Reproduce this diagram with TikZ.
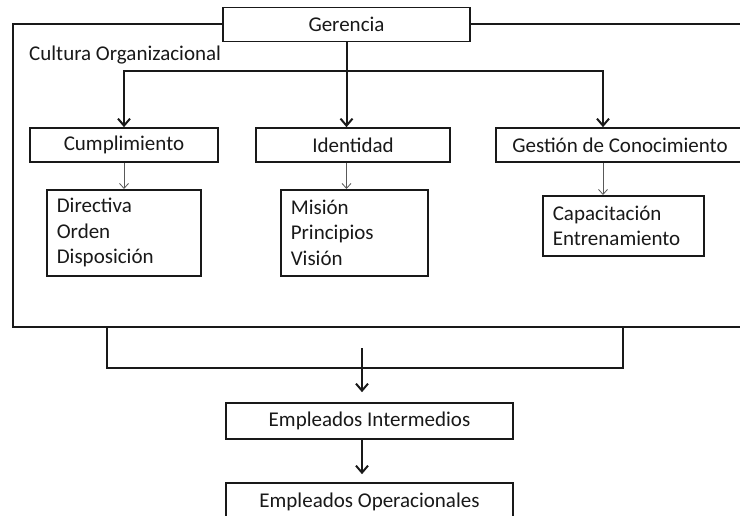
\documentclass[tikz,border=0pt]{standalone}
\usepackage{fontspec}
\setmainfont{Carlito}
\usetikzlibrary{arrows.meta,calc}

\tikzset{
  txt/.style={font=\fontsize{21}{25.5}\selectfont, text=black!90},
  box/.style={txt, draw=black!90, line width=1.6, fill=white, inner sep=0, minimum height=34},
  listbox/.style={txt, draw=black!90, line width=1.6, fill=white, inner xsep=10, inner ysep=0, align=left, anchor=north west},
  bigarrow/.style={draw=black!90, line width=2, -{Straight Barb[length=7pt,width=12pt]}},
  smallarrow/.style={draw=black!65, line width=0.8, -{Straight Barb[length=5pt,width=9pt]}},
}

\begin{document}
\begin{tikzpicture}[x=1pt,y=-1pt]
  %%%%% START %%%%%
  \useasboundingbox (0,0) rectangle (740,516);
  \clip (0,0) rectangle (740,516);

  % frame of the culture
  \node[draw=black!90, line width=1.6, inner sep=0, minimum width=750, minimum height=303] (cultura) at (388,175.5) {};
  \node[txt, anchor=west, inner sep=0] (culturalbl) at (29,55) {Cultura Organizacional};

  \node[box, minimum width=247] (gerencia) at (346.5,24.5) {Gerencia};
  \node[box, minimum width=188] (cumpl) at (124,145) {Cumplimiento};
  \node[box, minimum width=194] (ident) at (353,145) {Identidad};
  \node[box, minimum width=248] (gestion) at (620,145) {Gestión de Conocimiento};

  \node[listbox, text width=134, minimum height=86] (directiva) at (46,189) {Directiva\\Orden\\Disposición};
  \node[listbox, text width=127, minimum height=86] (mision) at (280,189) {Misión\\Principios\\Visión};
  \node[listbox, text width=141, minimum height=60] (capac) at (542,195) {Capacitación\\Entrenamiento};

  \node[box, minimum width=287, minimum height=36] (interm) at (369.5,421) {Empleados Intermedios};
  \node[box, minimum width=287, minimum height=38] (operac) at (369.5,502) {Empleados Operacionales};

  % from the top
  \coordinate (split) at (346.5,71);
  \coordinate (gescol) at (603,71);
  \draw[bigarrow] (gerencia.south) -- (gerencia.south |- ident.north);
  \draw[bigarrow] (split) -| (cumpl.north);
  \draw[bigarrow] (split) -| (gestion.north -| gescol);

  \draw[smallarrow] (cumpl.south) -- (cumpl.south |- directiva.north);
  \draw[smallarrow] (ident.south -| gerencia.south) -- (mision.north -| gerencia.south);
  \draw[smallarrow] (gestion.south -| gescol) -- (capac.north -| gescol);

  % down to the employees
  \coordinate (brl) at (107,368);
  \coordinate (brr) at (623,368);
  \coordinate (brtop) at (362,348);
  \draw[draw=black!90, line width=2] (cultura.south -| brl) -- (brl) -- (brr) -- (cultura.south -| brr);
  \draw[bigarrow, shorten >=10] (brtop) -- (interm.north -| brtop);
  \draw[bigarrow, shorten >=8] (interm.south -| brtop) -- (operac.north -| brtop);

  %%%%% END %%%%%
\end{tikzpicture}
\end{document}
